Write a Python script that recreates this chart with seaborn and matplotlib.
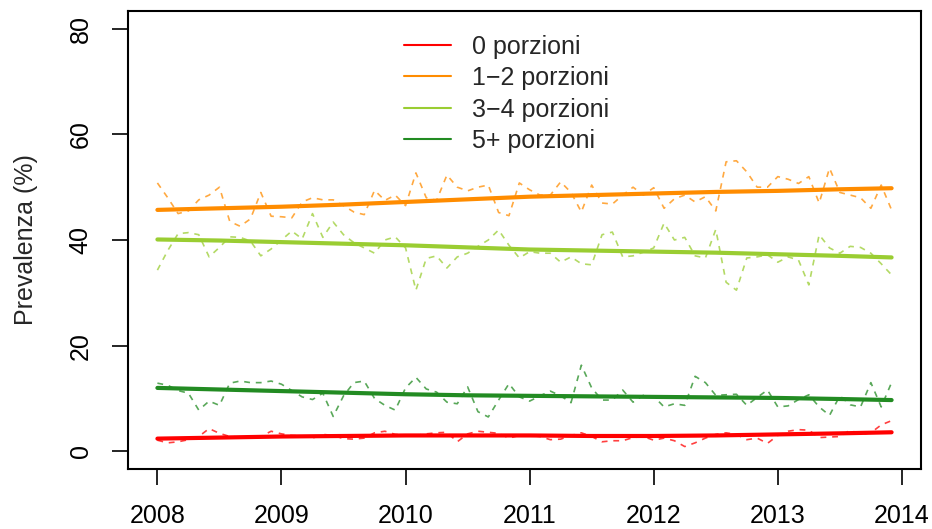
import numpy as np
import pandas as pd
import seaborn as sns
import matplotlib
matplotlib.use("Agg")
import matplotlib.pyplot as plt
from matplotlib.lines import Line2D

# monthly prevalence (%), Jan 2008 - Dec 2013
gruppi = ["0 porzioni", "1\u22122 porzioni", "3\u22124 porzioni", "5+ porzioni"]
colori = ["#FF0000", "#FF8C00", "#9ACD32", "#228B22"]

zero = [2.1, 1.6, 1.8, 2.2, 2.8, 4.3, 3.4, 2.8, 2.7, 2.5, 2.8, 3.8,
        3.3, 3.0, 2.9, 2.5, 3.2, 3.0, 2.4, 2.3, 2.5, 3.5, 3.8, 3.2,
        3.1, 3.0, 3.3, 3.5, 3.6, 1.8, 3.3, 3.8, 3.6, 3.4, 2.5, 3.0,
        3.0, 2.8, 2.2, 2.3, 3.0, 3.5, 2.8, 1.8, 2.0, 2.0, 2.6, 2.8,
        2.1, 2.5, 2.0, 0.9, 1.6, 2.5, 3.2, 3.5, 3.2, 2.2, 2.5, 1.5,
        3.0, 3.8, 4.1, 4.0, 2.6, 2.7, 2.8, 4.0, 3.2, 3.5, 5.0, 5.8]
uno_due = [50.8, 48.0, 45.0, 45.5, 47.6, 48.5, 50.0, 43.5, 42.6, 44.0, 49.0, 44.5,
           44.4, 44.2, 47.2, 48.0, 47.6, 47.6, 46.5, 45.3, 44.8, 49.4, 47.5, 48.5,
           46.5, 52.7, 48.0, 47.5, 52.3, 50.0, 49.3, 50.0, 50.4, 45.2, 44.6, 50.8,
           49.5, 48.5, 48.5, 51.0, 49.0, 45.3, 50.4, 47.0, 46.8, 48.5, 50.0, 48.5,
           49.9, 46.0, 47.8, 48.5, 47.2, 48.2, 45.5, 54.8, 55.0, 52.9, 50.0, 50.0,
           52.0, 51.5, 50.7, 52.0, 47.0, 53.6, 49.0, 48.5, 48.0, 46.0, 50.4, 45.7]
tre_quattro = [34.3, 38.0, 41.2, 41.4, 41.0, 36.8, 38.6, 40.6, 40.5, 39.8, 37.0, 38.3,
               40.0, 41.7, 40.2, 45.0, 40.5, 43.4, 41.0, 39.5, 38.5, 37.5, 40.0, 40.6,
               38.5, 30.5, 36.5, 37.0, 34.7, 36.8, 37.5, 38.8, 40.0, 41.9, 39.0, 36.6,
               37.8, 37.5, 37.5, 35.8, 36.8, 35.5, 35.3, 41.0, 41.5, 36.8, 37.0, 37.7,
               38.5, 43.2, 40.0, 40.5, 37.0, 36.6, 42.0, 32.0, 30.5, 36.6, 36.8, 37.2,
               35.8, 36.8, 36.2, 31.5, 41.0, 38.5, 37.5, 38.8, 38.6, 37.5, 35.5, 33.4]
cinque_piu = [12.9, 12.5, 11.5, 11.0, 7.8, 9.5, 8.7, 12.9, 13.3, 13.0, 13.0, 13.3,
              12.7, 11.5, 10.3, 9.8, 11.0, 6.6, 10.5, 13.0, 13.3, 10.0, 8.7, 7.8,
              12.0, 14.0, 11.8, 11.2, 9.3, 9.0, 12.2, 7.5, 6.5, 9.7, 12.8, 10.3,
              9.5, 10.5, 11.4, 10.5, 9.2, 16.3, 12.0, 9.7, 9.7, 11.6, 9.3, 10.6,
              10.4, 8.4, 9.0, 8.7, 14.2, 13.0, 10.6, 10.7, 10.8, 8.7, 10.2, 11.6,
              8.4, 8.6, 9.8, 10.7, 8.4, 6.8, 10.5, 8.8, 8.4, 13.0, 8.4, 13.0]

# smoothed trend, read every half year 2008 - 2014
anni_trend = [2008.0, 2008.5, 2009.0, 2009.5, 2010.0, 2010.5, 2011.0,
              2011.5, 2012.0, 2012.5, 2013.0, 2013.5, 2013.917]
trend_zero = [2.4, 2.6, 2.8, 2.9, 3.0, 3.0, 3.0, 2.9, 2.9, 3.0, 3.2, 3.4, 3.6]
trend_uno_due = [45.7, 46.0, 46.3, 46.7, 47.2, 47.7, 48.2, 48.5, 48.8, 49.1, 49.3, 49.6, 49.8]
trend_tre_quattro = [40.1, 39.9, 39.6, 39.3, 39.0, 38.6, 38.2, 38.0, 37.8, 37.6, 37.3, 37.0, 36.7]
trend_cinque_piu = [12.0, 11.7, 11.4, 11.1, 10.8, 10.6, 10.5, 10.4, 10.3, 10.2, 10.1, 9.9, 9.7]

anni = 2008 + np.arange(72) / 12

serie = [zero, uno_due, tre_quattro, cinque_piu]
trend = [trend_zero, trend_uno_due, trend_tre_quattro, trend_cinque_piu]

mensile = pd.concat([pd.DataFrame({"anno": anni, "valore": v, "gruppo": g})
                     for g, v in zip(gruppi, serie)], ignore_index=True)
liscio = pd.concat([pd.DataFrame({"anno": anni_trend, "valore": v, "gruppo": g})
                    for g, v in zip(gruppi, trend)], ignore_index=True)

sns.set_style("white")
plt.rcParams["font.family"] = ["Liberation Sans", "DejaVu Sans"]
plt.rcParams["axes.unicode_minus"] = True

fig = plt.figure(figsize=(9.32, 5.29), dpi=100)
ax = fig.add_axes([128 / 932, 60 / 529, 793 / 932, 458 / 529])

pal = dict(zip(gruppi, colori))
# monthly values, thin dashed
sns.lineplot(data=mensile, x="anno", y="valore", hue="gruppo", palette=pal,
             linestyle=(0, (3.5, 3.5)), linewidth=1.2, alpha=0.75,
             legend=False, ax=ax, estimator=None, sort=False)
# trend, thick solid
sns.lineplot(data=liscio, x="anno", y="valore", hue="gruppo", palette=pal,
             linewidth=3.0, legend=False, ax=ax, estimator=None, sort=False)

ax.set_xlim(2007.763, 2014.154)
ax.set_ylim(-3.35, 83.35)
ax.set_xticks(range(2008, 2015))
ax.set_yticks([0, 20, 40, 60, 80])
ax.set_xlabel("")
ax.set_ylabel("Prevalenza (%)", fontsize=18, labelpad=22)
ax.tick_params(axis="both", direction="out", length=11.5, width=1.2,
               labelsize=18, colors="black", pad=14, bottom=True, left=True)
for lab in ax.get_yticklabels():
    lab.set_rotation(90)
    lab.set_va("center")
for s in ax.spines.values():
    s.set_color("black")
    s.set_linewidth(1.5)

handles = [Line2D([], [], color=c, lw=1.5) for c in colori]
ax.legend(handles, gruppi, loc="upper left", bbox_to_anchor=(0.335, 0.97),
          frameon=False, fontsize=18, handlelength=1.9, handletextpad=0.85,
          labelspacing=0.3, borderaxespad=0)

fig.savefig("out.png", dpi=100)
